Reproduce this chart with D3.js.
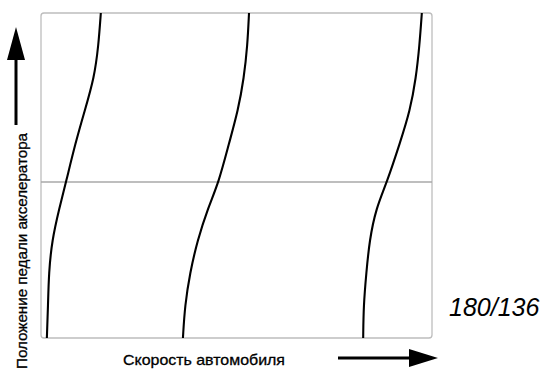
<!DOCTYPE html>
<html>
<head>
<meta charset="utf-8">
<script src="https://cdn.jsdelivr.net/npm/d3@7"></script>
<style>
  html, body { margin: 0; padding: 0; background: #fff; }
  svg { display: block; }
</style>
</head>
<body>
<svg id="chart" width="543" height="372"></svg>
<script>
// Data (pedal position 0-100 %, vehicle speed 0-100 relative units)
const pedal = [0, 10, 20, 30, 40, 48, 60, 70, 80, 90, 100];
const shift12 = [1.5, 1.8, 2.0, 2.8, 4.7, 6.4, 8.8, 11.2, 13.6, 14.7, 15.3];
const shift23 = [36.3, 36.8, 38.1, 40.0, 42.7, 45.5, 48.1, 50.4, 51.9, 52.8, 53.2];
const shift34 = [82.4, 82.5, 83.2, 84.0, 85.7, 88.5, 91.8, 94.4, 95.9, 96.8, 97.4];
const curves = [shift12, shift23, shift34];
const refLevel = [48];
const xLabel = "Скорость автомобиля";
const yLabel = "Положение педали акселератора";
const figCode = "180/136";

const svg = d3.select("#chart");
const x = d3.scaleLinear().domain([0, 100]).range([41, 432]);
const y = d3.scaleLinear().domain([0, 100]).range([338, 13]);

// frame
svg.append("rect")
  .attr("x", x(0)).attr("y", y(100))
  .attr("width", x(100) - x(0)).attr("height", y(0) - y(100))
  .attr("rx", 3)
  .attr("fill", "none").attr("stroke", "#bdbdbd").attr("stroke-width", 1.3);

// reference horizontal line
svg.selectAll("line.ref").data(refLevel).enter().append("line")
  .attr("class", "ref")
  .attr("x1", x(0)).attr("x2", x(100))
  .attr("y1", d => y(d)).attr("y2", d => y(d))
  .attr("stroke", "#a8a8a8").attr("stroke-width", 1.6);

// shift curves
const line = d3.line()
  .x(d => x(d[0]))
  .y(d => y(d[1]))
  .curve(d3.curveBasis);

svg.selectAll("path.curve").data(curves).enter().append("path")
  .attr("class", "curve")
  .attr("d", s => line(s.map((v, i) => [v, pedal[i]])))
  .attr("fill", "none").attr("stroke", "#000").attr("stroke-width", 2.1);

// y-axis label (rotated)
svg.append("text")
  .attr("transform", "translate(27,251) rotate(-90)")
  .attr("text-anchor", "middle")
  .attr("font-family", "Liberation Sans, Arial, sans-serif")
  .attr("font-size", 14)
  .attr("textLength", 236)
  .attr("lengthAdjust", "spacingAndGlyphs")
  .attr("fill", "#000")
  .attr("stroke", "#000").attr("stroke-width", 0.3)
  .text(yLabel);

// y arrow
svg.append("line")
  .attr("x1", 16).attr("x2", 16).attr("y1", 125).attr("y2", 56)
  .attr("stroke", "#000").attr("stroke-width", 3);
svg.append("path")
  .attr("d", "M16,27 L25,60 L7,60 Z")
  .attr("fill", "#000");

// x-axis label
svg.append("text")
  .attr("x", 123).attr("y", 365)
  .attr("font-family", "Liberation Sans, Arial, sans-serif")
  .attr("font-size", 15)
  .attr("textLength", 162)
  .attr("lengthAdjust", "spacingAndGlyphs")
  .attr("fill", "#000")
  .attr("stroke", "#000").attr("stroke-width", 0.3)
  .text(xLabel);

// x arrow
svg.append("line")
  .attr("x1", 338).attr("x2", 412).attr("y1", 358).attr("y2", 358)
  .attr("stroke", "#000").attr("stroke-width", 3);
svg.append("path")
  .attr("d", "M438,358 L409,349 L409,367 Z")
  .attr("fill", "#000");

// figure code
svg.append("text")
  .attr("x", 449).attr("y", 316)
  .attr("font-family", "Liberation Sans, Arial, sans-serif")
  .attr("font-size", 25)
  .attr("font-style", "italic")
  .attr("fill", "#000")
  .text(figCode);
</script>
</body>
</html>
